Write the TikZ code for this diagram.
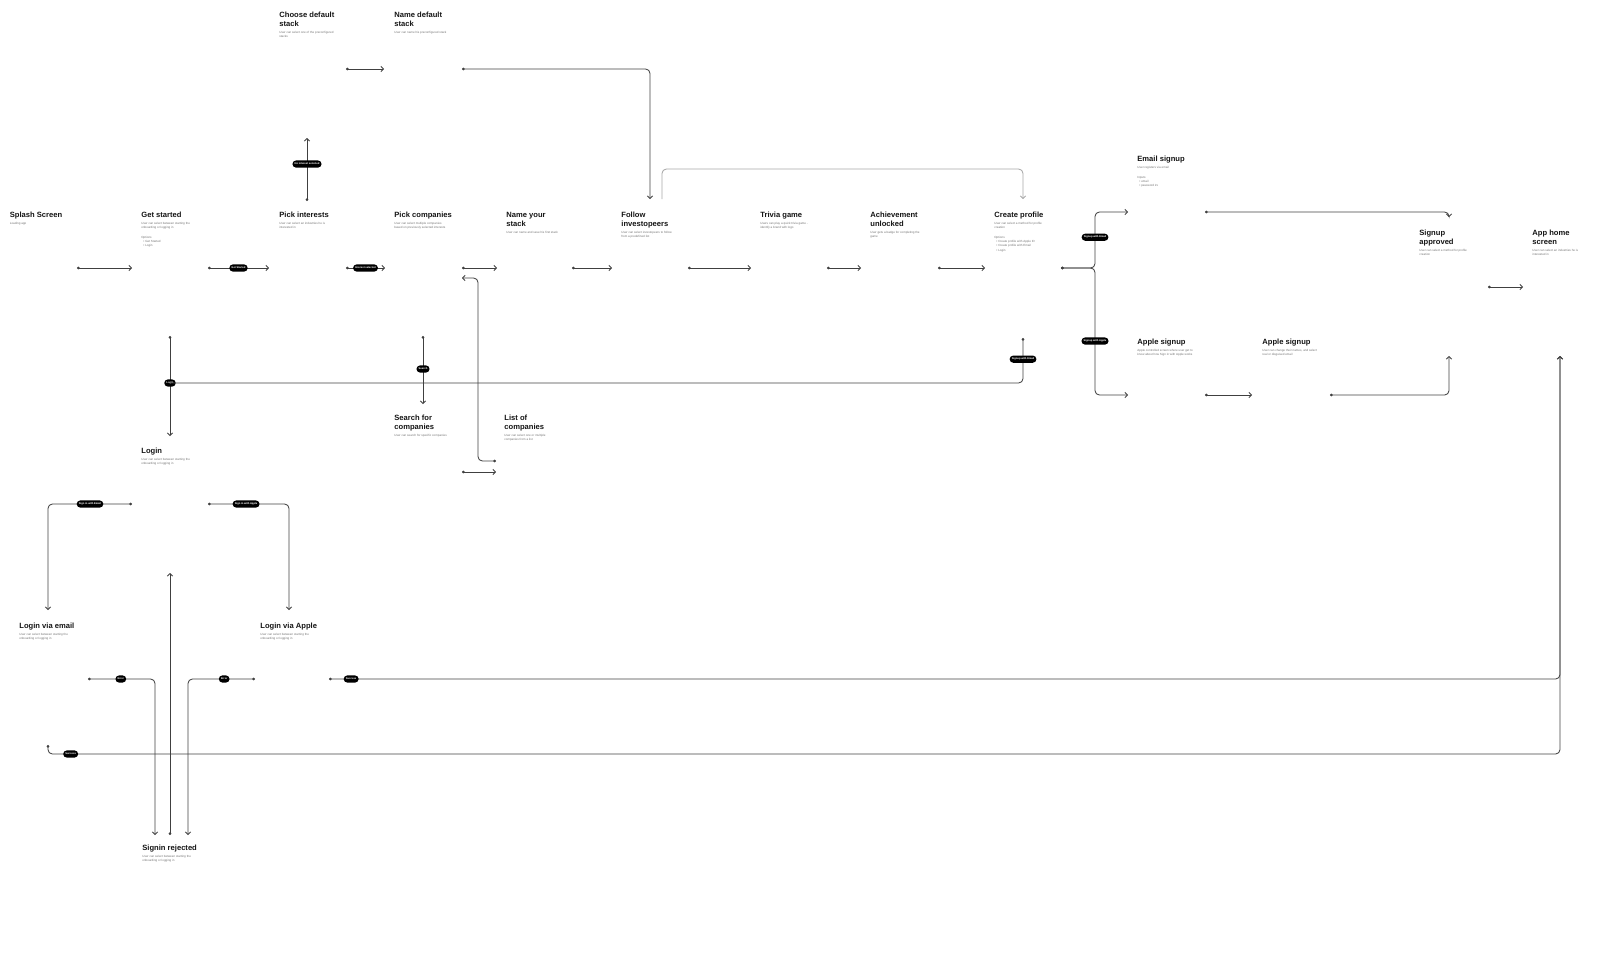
\documentclass[tikz,border=0pt]{standalone}
\usepackage{fontspec}
\setmainfont{Liberation Sans}
\usetikzlibrary{arrows.meta}
\begin{document}
\begin{tikzpicture}[x=0.5pt,y=-0.5pt,
  ttl/.style={anchor=north west, inner sep=0pt, align=left, font=\fontsize{3.8pt}{4.5pt}\selectfont\bfseries, text=black!92},
  sub/.style={anchor=north west, inner sep=0pt, align=left, font=\fontsize{1.5pt}{2.2pt}\selectfont, text=black!55},
  conn/.style={draw=black!75, line width=0.42pt, rounded corners=2.2pt, {Circle[length=1.3pt]}-{Straight Barb[length=1.3pt,width=2.8pt]}},
  connplain/.style={draw=black!75, line width=0.42pt, rounded corners=2.2pt, {Circle[length=1.3pt]}-},
  conngrey/.style={draw=black!35, line width=0.42pt, rounded corners=2.2pt, -{Straight Barb[length=1.3pt,width=2.8pt]}},
  pill/.style={fill=black, text=white, rounded corners=1.8pt, font=\fontsize{1.3pt}{1.5pt}\selectfont\bfseries, inner xsep=1.1pt, inner ysep=0pt, minimum height=3.6pt}]
\useasboundingbox (0,0) rectangle (1600,971);

% ---------- screens ----------
\node[ttl] (splash) at (9.5,212) {Splash Screen};
\node[sub] (splashD) at (9.5,221.8) {Loading app};

\node[ttl] (getstarted) at (141,212) {Get started};
\node[sub] (getstartedD) at (141,221.8) {User can select between starting the\\onboarding or logging in};
\node[sub] (getstartedO) at (141,235.6) {Options\\\hspace{1pt}• Get Started\\\hspace{1pt}• Login};

\node[ttl] (pickint) at (279,212) {Pick interests};
\node[sub] (pickintD) at (279,221.8) {User can select an industries he is\\interested in};

\node[ttl] (pickcomp) at (394,212) {Pick companies};
\node[sub] (pickcompD) at (394,221.8) {User can select multiple companies\\based on previously selected interests};

\node[ttl] (namestack) at (506,212) {Name your\\stack};
\node[sub] (namestackD) at (506,230.8) {User can name and save his first stack};

\node[ttl] (follow) at (621,212) {Follow\\investopeers};
\node[sub] (followD) at (621,230.8) {User can select investopeers to follow\\from a predefined list};

\node[ttl] (trivia) at (760,212) {Trivia game};
\node[sub] (triviaD) at (760,221.8) {Users can play a quick trivia game -\\identify a brand with logo};

\node[ttl] (achieve) at (870,212) {Achievement\\unlocked};
\node[sub] (achieveD) at (870,230.8) {User gets a badge for completing the\\game};

\node[ttl] (createprof) at (994,212) {Create profile};
\node[sub] (createprofD) at (994,221.8) {User can select a method for profile\\creation};
\node[sub] (createprofO) at (994,235.6) {Options\\\hspace{1pt}• Create profile with Apple ID\\\hspace{1pt}• Create profile with Email\\\hspace{1pt}• Login};

\node[ttl] (emailsu) at (1137,156) {Email signup};
\node[sub] (emailsuD) at (1137,165.8) {User registers via email};
\node[sub] (emailsuO) at (1137,175.6) {Inputs\\\hspace{1pt}• email\\\hspace{1pt}• password 2x};

\node[ttl] (signapp) at (1419,230) {Signup\\approved};
\node[sub] (signappD) at (1419,248.8) {User can select a method for profile\\creation};

\node[ttl] (apphome) at (1532,230) {App home\\screen};
\node[sub] (apphomeD) at (1532,248.8) {User can select an industries he is\\interested in};

\node[ttl] (applesu) at (1137,339) {Apple signup};
\node[sub] (applesuD) at (1137,348.8) {Apple controlled screen where user get to\\know about how Sign in with Apple works};

\node[ttl] (applesuB) at (1262,339) {Apple signup};
\node[sub] (applesuBD) at (1262,348.8) {User can change their names, and select\\real or disguised email};

\node[ttl] (choosedef) at (279,12) {Choose default\\stack};
\node[sub] (choosedefD) at (279,30.8) {User can select one of the preconfigured\\stacks};

\node[ttl] (namedef) at (394,12) {Name default\\stack};
\node[sub] (namedefD) at (394,30.8) {User can name his preconfigured stack};

\node[ttl] (searchc) at (394,415) {Search for\\companies};
\node[sub] (searchcD) at (394,433.8) {User can search for specific companies};

\node[ttl] (listc) at (504,415) {List of\\companies};
\node[sub] (listcD) at (504,433.8) {User can select one or multiple\\companies from a list};

\node[ttl] (login) at (141,448) {Login};
\node[sub] (loginD) at (141,457.8) {User can select between starting the\\onboarding or logging in};

\node[ttl] (loginemail) at (19,623) {Login via email};
\node[sub] (loginemailD) at (19,632.8) {User can select between starting the\\onboarding or logging in};

\node[ttl] (loginapple) at (260,623) {Login via Apple};
\node[sub] (loginappleD) at (260,632.8) {User can select between starting the\\onboarding or logging in};

\node[ttl] (rejected) at (142,845) {Signin rejected};
\node[sub] (rejectedD) at (142,854.8) {User can select between starting the\\onboarding or logging in};

% ---------- ports ----------
\coordinate (splashOut) at (77,268);
\coordinate (gsIn) at (132,268);
\coordinate (gsOut) at (208,268);
\coordinate (piIn) at (269,268);
\coordinate (piOut) at (346,268);
\coordinate (pcIn) at (385,268);
\coordinate (pcOut) at (462,268);
\coordinate (nsIn) at (497,268);
\coordinate (nsOut) at (572,268);
\coordinate (foIn) at (612,268);
\coordinate (foOut) at (688,268);
\coordinate (trIn) at (751,268);
\coordinate (trOut) at (827,268);
\coordinate (acIn) at (861,268);
\coordinate (acOut) at (938,268);
\coordinate (cpIn) at (985,268);
\coordinate (cpOut) at (1061,268);
\coordinate (esIn) at (1128,212);
\coordinate (esOut) at (1205,212);
\coordinate (saIn) at (1449,217);
\coordinate (saInB) at (1449,356);
\coordinate (saOut) at (1488,287);
\coordinate (ahIn) at (1523,287);
\coordinate (ahInB) at (1560,356);
\coordinate (asIn) at (1128,395);
\coordinate (asOut) at (1205,395);
\coordinate (asBIn) at (1252,395);
\coordinate (asBOut) at (1330,395);
\coordinate (piTop) at (307,201);
\coordinate (cdBot) at (307,138);
\coordinate (cdOut) at (346,69);
\coordinate (ndIn) at (384,69);
\coordinate (ndOut) at (462,69);
\coordinate (foTopA) at (650,199);
\coordinate (foTopB) at (662,199);
\coordinate (cpTop) at (1023,199);
\coordinate (cpBot) at (1023,338);
\coordinate (gsBot) at (170,336);
\coordinate (loginTop) at (170,436);
\coordinate (loginJoin) at (170,383);
\coordinate (pcBot) at (423,336);
\coordinate (scTop) at (423,404);
\coordinate (scOut) at (462,472);
\coordinate (lcIn) at (496,472);
\coordinate (lcOut) at (496,461);
\coordinate (pcInB) at (462,278);
\coordinate (loginL) at (132,504);
\coordinate (loginR) at (208,504);
\coordinate (leTop) at (48,610);
\coordinate (laTop) at (289,610);
\coordinate (loginBot) at (170,573);
\coordinate (rjTop) at (170,835);
\coordinate (rjTopL) at (155,835);
\coordinate (rjTopR) at (188,835);
\coordinate (leOut) at (88,679);
\coordinate (laOutL) at (255,679);
\coordinate (laOutR) at (329,679);
\coordinate (leBot) at (48,745);

% ---------- connectors ----------
\draw[conn] (splashOut) -- (gsIn);
\draw[conn] (gsOut) -- node[pill]{Get Started} (piIn);
\draw[conn] (piOut) -- node[pill]{Interest selected} (pcIn);
\draw[conn] (pcOut) -- (nsIn);
\draw[conn] (nsOut) -- (foIn);
\draw[conn] (foOut) -- (trIn);
\draw[conn] (trOut) -- (acIn);
\draw[conn] (acOut) -- (cpIn);
\draw[conn] (piTop) -- node[pill,pos=0.587]{No interest selected} (cdBot);
\draw[conn] (cdOut) -- (ndIn);
\draw[conn] (ndOut) -- (650,69) -- (foTopA);
\draw[conngrey] (foTopB) -- (662,169) -- (1023,169) -- (cpTop);
\draw[conn] (cpOut) -- (1095,268) -- node[pill,pos=0.55]{Signup with Email} (1095,212) -- (esIn);
\draw[conn] (cpOut) -- (1095,268) -- node[pill,pos=0.575]{Signup with Apple} (1095,395) -- (asIn);
\draw[conn] (esOut) -- (1449,212) -- (saIn);
\draw[conn] (asOut) -- (asBIn);
\draw[conn] (asBOut) -- (1449,395) -- (saInB);
\draw[conn] (saOut) -- (ahIn);
\draw[conn] (gsBot) -- node[pill,pos=0.47]{Login} (loginTop);
\draw[connplain] (cpBot) -- node[pill,pos=0.47]{Signup with Email} (1023,383) -- (loginJoin);
\draw[conn] (pcBot) -- node[pill,pos=0.485]{Search} (scTop);
\draw[conn] (scOut) -- (lcIn);
\draw[conn] (lcOut) -- (478,461) -- (478,278) -- (pcInB);
\draw[conn] (loginL) -- node[pill,pos=0.5]{Sign in with Email} (48,504) -- (leTop);
\draw[conn] (loginR) -- node[pill,pos=0.47]{Sign in with Apple} (289,504) -- (laTop);
\draw[conn] (rjTop) -- (loginBot);
\draw[conn] (leOut) -- node[pill,pos=0.49]{Error} (155,679) -- (rjTopL);
\draw[conn] (laOutL) -- node[pill,pos=0.46]{Error} (188,679) -- (rjTopR);
\draw[conn] (laOutR) -- node[pill,pos=0.018]{Success} (1560,679) -- (ahInB);
\draw[conn] (leBot) -- (48,754) -- node[pill,pos=0.015]{Success} (1560,754) -- (ahInB);
\end{tikzpicture}
\end{document}
